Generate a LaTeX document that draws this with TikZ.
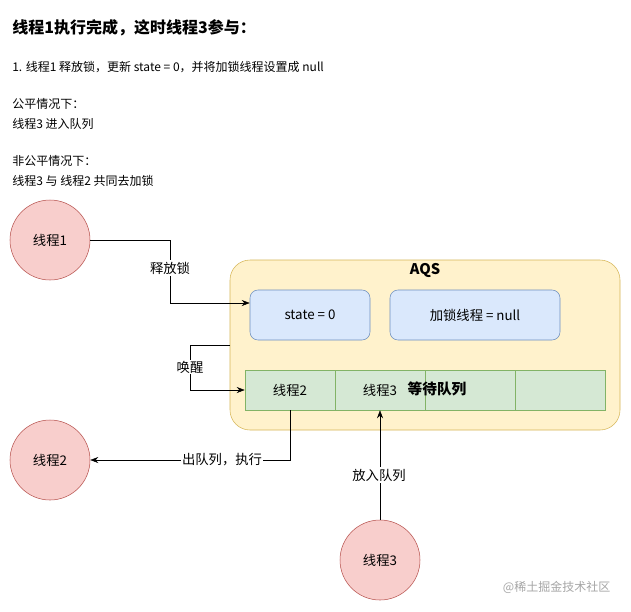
\documentclass[tikz,border=0pt]{standalone}
\usepackage{fontspec}
\setmainfont{Noto Sans CJK SC}
\usetikzlibrary{arrows.meta}
\definecolor{pinkf}{HTML}{F8CECC}\definecolor{pinks}{HTML}{B85450}
\definecolor{yelf}{HTML}{FFF2CC}\definecolor{yels}{HTML}{D6B656}
\definecolor{bluf}{HTML}{DAE8FC}\definecolor{blus}{HTML}{6C8EBF}
\definecolor{grnf}{HTML}{D5E8D4}\definecolor{grns}{HTML}{82B366}
\begin{document}
\begin{tikzpicture}[x=0.75pt,y=-0.75pt,
  txt/.style={anchor=west,inner sep=0,font=\fontsize{9}{11}\selectfont},
  thr/.style={circle,draw=pinks,fill=pinkf,minimum size=60pt,inner sep=0,font=\fontsize{10}{12}\selectfont},
  box/.style={draw=blus,fill=bluf,rounded corners=6pt,minimum height=37.5pt,font=\fontsize{10}{12}\selectfont},
  cell/.style={draw=grns,fill=grnf,minimum width=67.5pt,minimum height=30pt,inner sep=0,font=\fontsize{10}{12}\selectfont},
  lab/.style={fill=white,inner sep=1pt,font=\fontsize{10}{12}\selectfont},
  arr/.style={-{Stealth[length=6pt]},black}]
\path[use as bounding box,fill=white] (0,0) rectangle (631,611);
\node[txt,font=\bfseries\fontsize{12}{14}\selectfont] (title) at (12,28) {线程1执行完成，这时线程3参与：};
\node[txt] (t1) at (12,67) {1. 线程1 释放锁，更新 state = 0，并将加锁线程设置成 null};
\node[txt] (t2) at (12,104) {公平情况下：};
\node[txt] (t3) at (12,124) {线程3 进入队列};
\node[txt] (t4) at (12,161) {非公平情况下：};
\node[txt] (t5) at (12,181) {线程3 与 线程2 共同去加锁};
\node[draw=yels,fill=yelf,rounded corners=15pt,minimum width=292.5pt,minimum height=127.5pt] (aqs) at (425,345) {};
\node[font=\bfseries\fontsize{11}{13}\selectfont] (aqsl) at (425,270) {AQS};
\node[box,minimum width=90pt] (st) at (310,315) {state = 0};
\node[box,minimum width=127.5pt] (lk) at (475,315) {加锁线程 = null};
\node[cell] (c1) at (290,390) {线程2};
\node[cell] (c2) at (380,390) {线程3};
\node[cell] (c3) at (470,390) {};
\node[cell] (c4) at (560,390) {};
\node[font=\bfseries\fontsize{11}{13}\selectfont] (q) at (437,389) {等待队列};
\node[thr] (p1) at (50,240) {线程1};
\node[thr] (p2) at (50,460) {线程2};
\node[thr] (p3) at (380,560) {线程3};
\draw[arr] (p1.east) -- (170,240) -- (170,303) -- (st.west |- 0,303);
\node[lab] at (170,268) {释放锁};
\coordinate (w) at (230,345);
\draw[arr] (w) -- (190,345) -- (190,390) -- (c1.west);
\node[lab] at (190,367) {唤醒};
\draw[arr] (c1.south) -- (290,460) -- (p2.east);
\node[lab] at (222,460) {出队列，执行};
\draw[arr] (p3.north) -- (c2.south);
\node[lab] at (379,475) {放入队列};
\node[anchor=east,text=gray!70,font=\fontsize{9}{11}\selectfont] (wm) at (615,587) {@稀土掘金技术社区};
\end{tikzpicture}
\end{document}
